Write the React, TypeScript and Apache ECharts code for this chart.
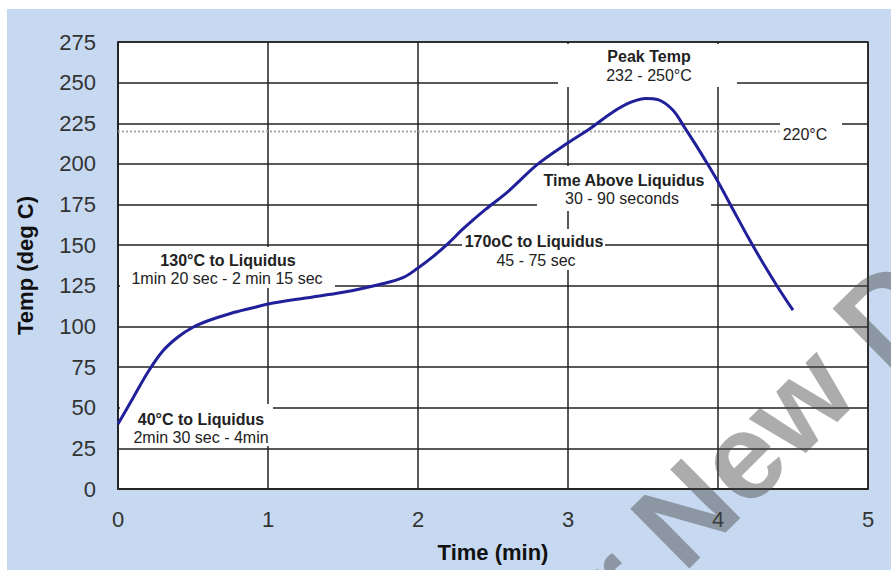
import React, { useEffect, useRef } from "react";
import * as echarts from "echarts";

const times = [0, 0.1, 0.2, 0.3, 0.4, 0.5, 0.6, 0.75, 0.9, 1.0, 1.25, 1.5, 1.75, 1.9, 2.0, 2.1, 2.2, 2.3, 2.45, 2.6, 2.8, 3.0, 3.15, 3.3, 3.42, 3.52, 3.6, 3.7, 3.78, 3.85, 3.93, 4.0, 4.1, 4.2, 4.3, 4.4, 4.5];
const temps = [40, 56, 72, 85, 93.5, 99.5, 103.5, 108, 111.5, 113.8, 117.5, 121, 126, 130, 136, 143, 151, 160, 172, 183, 200, 213, 222, 232, 238, 240.3, 239.5, 233, 222, 212, 200, 189, 172, 155, 139, 124, 110];

const liquidusTemp = 220;
const liquidusLineEnd = 4.41;
const xTicks = [0, 1, 2, 3, 4, 5];
const yTicks = [0, 25, 50, 75, 100, 125, 150, 175, 200, 225, 250, 275];

const FONT = "'Liberation Sans', Arial, sans-serif";
const GRID = "#222222";

export default function App() {
  const ref = useRef<HTMLDivElement>(null);
  useEffect(() => {
    if (!ref.current) return;
    const chart = echarts.init(ref.current, null, { renderer: "svg" });
    const txt = (text: string, x: number, y: number, bold: boolean, size = 16) => ({
      type: "text",
      x,
      y,
      z: 6,
      style: {
        text,
        fill: "#222",
        font: `${bold ? "bold " : ""}${size}px ${FONT}`,
        textAlign: "center",
        textVerticalAlign: "middle",
      },
    });
    const box = (x: number, y: number, w: number, h: number) => ({
      type: "rect",
      z: 5,
      shape: { x, y, width: w, height: h },
      style: { fill: "#ffffff" },
    });
    const ang = 0.78;
    const wmX = 611;
    const wmY = 501;
    const wmStyle = {
      fill: "rgba(70,70,70,0.45)",
      font: `bold 122px ${FONT}`,
      textVerticalAlign: "top",
    };
    chart.setOption({
      animation: false,
      grid: {
        left: 118,
        right: 23,
        top: 42,
        bottom: 81,
        show: true,
        backgroundColor: "#ffffff",
        borderColor: GRID,
        borderWidth: 1.5,
      },
      xAxis: {
        type: "value",
        min: xTicks[0],
        max: xTicks[xTicks.length - 1],
        interval: 1,
        axisLine: { show: true, lineStyle: { color: GRID, width: 1.5 } },
        axisTick: { show: false },
        splitLine: { show: true, lineStyle: { color: GRID, width: 1.5 } },
        axisLabel: { fontSize: 22, color: "#333", margin: 19, fontFamily: FONT },
        name: "Time (min)",
        nameLocation: "middle",
        nameGap: 52,
        nameTextStyle: { fontSize: 22, fontWeight: "bold", color: "#111", fontFamily: FONT },
      },
      yAxis: {
        type: "value",
        min: yTicks[0],
        max: yTicks[yTicks.length - 1],
        interval: 25,
        axisLine: { show: true, lineStyle: { color: GRID, width: 1.5 } },
        axisTick: { show: false },
        splitLine: { show: true, lineStyle: { color: GRID, width: 1.5 } },
        axisLabel: { fontSize: 22, color: "#333", margin: 22, fontFamily: FONT },
        name: "Temp (deg C)",
        nameLocation: "middle",
        nameGap: 82,
        nameRotate: 90,
        nameTextStyle: { fontSize: 22, fontWeight: "bold", color: "#111", fontFamily: FONT },
      },
      series: [
        {
          type: "line",
          z: 3,
          data: [
            [0, liquidusTemp],
            [liquidusLineEnd, liquidusTemp],
          ],
          showSymbol: false,
          silent: true,
          lineStyle: { color: "#a8a8a8", width: 2, type: [2, 2] },
        },
        {
          type: "line",
          z: 10,
          data: times.map((t, i) => [t, temps[i]]),
          smooth: 0.35,
          showSymbol: false,
          lineStyle: { color: "#20209a", width: 3 },
        },
      ],
      graphic: [
        box(558, 44, 179, 43),
        box(780, 116, 62, 28),
        box(537, 166, 174, 45),
        box(462, 229, 143, 41),
        box(120, 247, 215, 41),
        box(120, 404, 153, 42),
        txt("Peak Temp", 649, 56, true),
        txt("232 - 250°C", 649, 75, false),
        txt("220°C", 805, 134, false),
        txt("Time Above Liquidus", 624, 180, true),
        txt("30 - 90 seconds", 622, 198, false),
        txt("170oC to Liquidus", 534, 241, true),
        txt("45 - 75 sec", 536, 260, false),
        txt("130°C to Liquidus", 228, 260, true),
        txt("1min 20 sec - 2 min 15 sec", 227, 278, false),
        txt("40°C to Liquidus", 201, 419, true),
        txt("2min 30 sec - 4min", 201, 437, false),
        {
          type: "text",
          x: wmX,
          y: wmY,
          rotation: ang,
          z: 100,
          silent: true,
          style: { ...wmStyle, text: "New Designs", textAlign: "left" },
        },
        {
          type: "text",
          x: wmX,
          y: wmY,
          rotation: ang,
          z: 100,
          silent: true,
          style: { ...wmStyle, text: "Not Recommended for ", textAlign: "right" },
        },
      ],
    });
    return () => chart.dispose();
  }, []);
  return (
    <div
      ref={ref}
      style={{
        position: "fixed",
        left: 0,
        top: 0,
        width: 891,
        height: 570,
        background:
          "linear-gradient(#c6d9f1, #c6d9f1) 7px 9px / 884px 561px no-repeat, #ffffff",
      }}
    />
  );
}
